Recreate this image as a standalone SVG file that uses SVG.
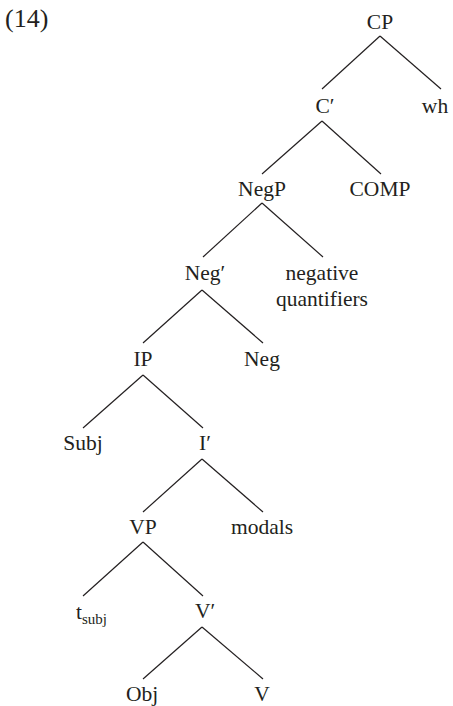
<svg xmlns="http://www.w3.org/2000/svg" width="453" height="706" viewBox="0 0 453 706">
<style>
text{font-family:"Liberation Serif","Times New Roman",serif;font-size:21.5px;fill:#231f20;text-anchor:middle}
.e line{stroke:#231f20;stroke-width:1.2;fill:none}
</style>
<rect width="453" height="706" fill="#fff"/>
<text x="5" y="27" style="text-anchor:start;font-size:26px">(14)</text>
<g class="e" id="edges">
<line x1="380" y1="36" x2="322" y2="89"/><line x1="380" y1="36" x2="441" y2="89"/>
<line x1="322" y1="121" x2="262" y2="174"/><line x1="322" y1="121" x2="381" y2="174"/>
<line x1="262" y1="203" x2="203" y2="257"/><line x1="262" y1="203" x2="323" y2="257"/>
<line x1="202" y1="290" x2="143" y2="343"/><line x1="202" y1="290" x2="263" y2="343"/>
<line x1="143" y1="375" x2="83" y2="428"/><line x1="143" y1="375" x2="203" y2="428"/>
<line x1="202" y1="459" x2="143" y2="512"/><line x1="202" y1="459" x2="263" y2="512"/>
<line x1="143" y1="542" x2="83" y2="596"/><line x1="143" y1="542" x2="203" y2="596"/>
<line x1="202" y1="627" x2="143" y2="679"/><line x1="202" y1="627" x2="263" y2="679"/>
</g>
<g id="CP"><text x="380" y="29">CP</text></g>
<g id="Cbar"><text x="325" y="113">C′</text></g>
<g id="wh"><text x="435" y="113">wh</text></g>
<g id="NegP"><text x="262" y="196">NegP</text></g>
<g id="COMP"><text x="380" y="196">COMP</text></g>
<g id="Negbar"><text x="205" y="280">Neg′</text></g>
<g id="negq"><text x="322" y="280">negative</text><text x="322" y="306">quantifiers</text></g>
<g id="IP"><text x="143" y="366">IP</text></g>
<g id="Neg"><text x="262" y="366">Neg</text></g>
<g id="Subj"><text x="83" y="450">Subj</text></g>
<g id="Ibar"><text x="205" y="450">I′</text></g>
<g id="VP"><text x="143" y="534">VP</text></g>
<g id="modals"><text x="262" y="534">modals</text></g>
<g id="tsubj"><text x="76" y="619" style="text-anchor:start">t<tspan font-size="15" dy="5">subj</tspan></text></g>
<g id="Vbar"><text x="205" y="618">V′</text></g>
<g id="Obj"><text x="142" y="701">Obj</text></g>
<g id="V"><text x="262" y="701">V</text></g>
</svg>
